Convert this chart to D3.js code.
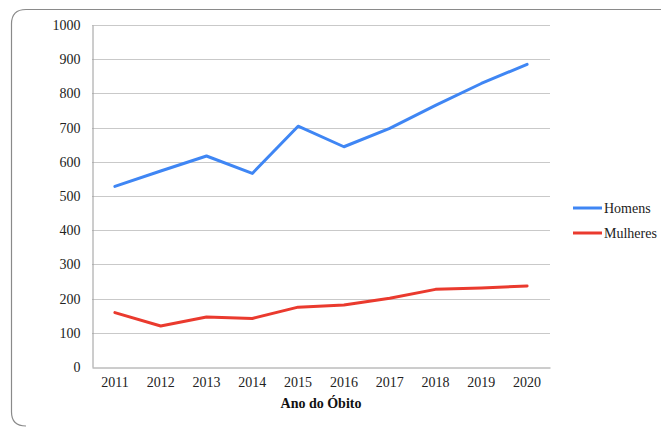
<!DOCTYPE html>
<html><head><meta charset="utf-8">
<script src="https://cdn.jsdelivr.net/npm/d3@7"></script>
<style>body{margin:0;background:#fff}svg{display:block}</style>
</head><body>
<script>
const years = ["2011","2012","2013","2014","2015","2016","2017","2018","2019","2020"];
const homens = [528, 573, 617, 566, 704, 644, 698, 765, 829, 885];
const mulheres = [159, 120, 146, 142, 175, 181, 201, 227, 231, 237];
const yTicks = [0,100,200,300,400,500,600,700,800,900,1000];
const seriesNames = ["Homens","Mulheres"];
const seriesColors = ["#3f86f4","#ea3a2e"];

const W = 661, H = 427;
const FONT = "Liberation Serif";
const svg = d3.select("body").append("svg").attr("width", W).attr("height", H)
  .attr("font-family", FONT);

// outer frame
svg.append("path")
  .attr("d", `M ${W+5} 9.5 L 26 9.5 Q 11.5 9.5 11.5 24 L 11.5 412 Q 11.5 426 26 426`)
  .attr("fill","none").attr("stroke","#8a8a8a").attr("stroke-width",1.2);

const x = d3.scaleBand().domain(years).range([92, 550]);
const y = d3.scaleLinear().domain([0,1000]).range([367, 25]);

// gridlines
svg.append("g").selectAll("line").data(yTicks.filter(d=>d>0)).join("line")
  .attr("x1", 92).attr("x2", 550)
  .attr("y1", d=>Math.round(y(d))+0.5).attr("y2", d=>Math.round(y(d))+0.5)
  .attr("stroke","#c9c9c9").attr("stroke-width",1);

// axes
const yAxis = svg.append("g").attr("transform","translate(92.5,0)")
  .call(d3.axisLeft(y).tickValues(yTicks).tickFormat(d3.format("d")).tickSize(0).tickPadding(12));
yAxis.attr("font-family", FONT).attr("font-size", 14);
yAxis.select(".domain").attr("stroke","#9a9a9a");
yAxis.selectAll("text").attr("font-family", FONT).attr("font-size",14).attr("fill","#222");

const xAxis = svg.append("g").attr("transform","translate(0,367.5)")
  .call(d3.axisBottom(x).tickSize(0).tickPadding(10));
xAxis.attr("font-family", FONT).attr("font-size", 14);
xAxis.select(".domain").attr("stroke","#9a9a9a");
xAxis.selectAll("text").attr("font-family", FONT).attr("font-size",14).attr("fill","#222");

svg.append("text").attr("x", 321).attr("y", 408).attr("text-anchor","middle")
  .attr("font-family", FONT)
  .attr("font-size",14).attr("font-weight","bold").attr("fill","#111")
  .text("Ano do Óbito");

const line = d3.line().x((d,i)=>x(years[i]) + x.bandwidth()/2).y(d=>y(d));
[homens, mulheres].forEach((s,k)=>{
  svg.append("path").datum(s).attr("d", line)
    .attr("fill","none").attr("stroke", seriesColors[k]).attr("stroke-width",3)
    .attr("stroke-linejoin","round").attr("stroke-linecap","round");
});

// legend
const legY = [208, 233];
seriesNames.forEach((n,k)=>{
  svg.append("line").attr("x1",573).attr("x2",602).attr("y1",legY[k]).attr("y2",legY[k])
    .attr("stroke",seriesColors[k]).attr("stroke-width",3);
  svg.append("text").attr("x",604).attr("y",legY[k]+5)
    .attr("font-family", FONT)
    .attr("font-size",14).attr("fill","#222").text(n);
});
</script>
</body></html>
